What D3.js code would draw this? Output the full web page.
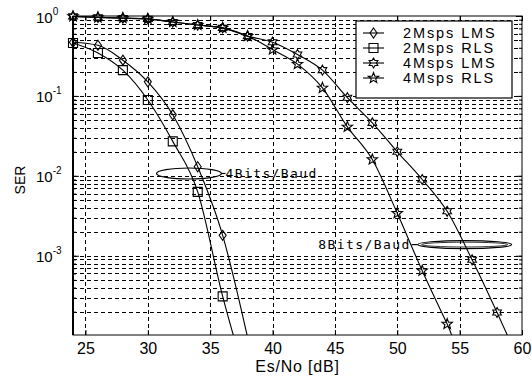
<!DOCTYPE html>
<html>
<head>
<meta charset="utf-8">
<script src="https://cdn.jsdelivr.net/npm/d3@7"></script>
<style>
  body { margin: 0; background: #fff; }
  text { font-family: "Liberation Sans", Arial, sans-serif; fill: #000; }
</style>
</head>
<body>
<script>
'use strict';

// SNR points (dB) and symbol error rates
const snr2 = [24, 26, 28, 30, 32, 34, 36, 38];
const ser2LMS = [0.47, 0.43, 0.28, 0.15, 0.058, 0.013, 1.8e-3, 9.5e-5];
const ser2RLS = [0.46, 0.345, 0.21, 0.089, 0.027, 6.3e-3, 3.1e-4, 2.5e-5];

const snr4 = [24, 26, 28, 30, 32, 34, 36, 38, 40, 42, 44, 46, 48, 50, 52, 54, 56, 58, 60];
const ser4LMS = [0.99, 0.96, 0.94, 0.92, 0.84, 0.77, 0.71, 0.56, 0.47, 0.33, 0.21, 0.095,
  0.046, 0.02, 9e-3, 3.6e-3, 8.9e-4, 1.95e-4, 4e-5];
const ser4RLS = [0.99, 0.96, 0.94, 0.92, 0.84, 0.77, 0.71, 0.56, 0.38, 0.25, 0.126, 0.041,
  0.016, 3.4e-3, 6.5e-4, 1.4e-4, 3e-5];

const seriesNames = ['2Msps LMS', '2Msps RLS', '4Msps LMS', '4Msps RLS'];
const seriesMarkers = ['diamond', 'square', 'hexagram', 'pentagram'];

const xTicks = [25, 30, 35, 40, 45, 50, 55, 60];
const yTickExps = [0, -1, -2, -3];

const series = [
  {x: snr2, y: ser2LMS},
  {x: snr2, y: ser2RLS},
  {x: snr4, y: ser4LMS},
  {x: snr4, y: ser4RLS}
].map((s, i) => ({
  name: seriesNames[i],
  marker: seriesMarkers[i],
  points: s.x.map((v, j) => ({x: v, y: s.y[j]}))
}));

const W = 532, H = 376;
const margin = {left: 73, right: 10, top: 16, bottom: 41};
const width = W - margin.left - margin.right;
const height = H - margin.top - margin.bottom;

const xScale = d3.scaleLinear().domain([24, 60]).range([0, width]);
const yMin = 1.02e-4;
const yScale = d3.scaleLog().domain([yMin, 1]).range([height, 0]);

const svg = d3.select('body').append('svg')
  .attr('width', W)
  .attr('height', H);

const g = svg.append('g')
  .attr('transform', 'translate(' + [margin.left, margin.top] + ')');

svg.append('defs').append('clipPath').attr('id', 'plot-clip')
  .append('rect').attr('width', width).attr('height', height);

// minor + major log positions
const yGridVals = [];
for (let e = -4; e < 0; e++) {
  for (let m = 1; m < 10; m++) {
    const v = m * Math.pow(10, e);
    if (v >= yMin) yGridVals.push(v);
  }
}

// grid
const grid = g.append('g')
  .attr('stroke', '#000')
  .attr('stroke-width', 1)
  .attr('stroke-dasharray', '4,3');

grid.selectAll('line.hg')
  .data(yGridVals)
  .enter()
  .append('line')
  .attr('x1', 0)
  .attr('x2', width)
  .attr('y1', d => Math.round(yScale(d)) + 0.5)
  .attr('y2', d => Math.round(yScale(d)) + 0.5);

grid.selectAll('line.vg')
  .data(xTicks.filter(d => d < 60))
  .enter()
  .append('line')
  .attr('x1', d => Math.round(xScale(d)) + 0.5)
  .attr('x2', d => Math.round(xScale(d)) + 0.5)
  .attr('y1', 0)
  .attr('y2', height);

// axes: ticks inside the box
const xAxisGenerator = d3.axisBottom(xScale)
  .tickValues(xTicks)
  .tickSizeInner(-5)
  .tickSizeOuter(0)
  .tickPadding(8)
  .tickFormat(d3.format('d'));

const xAxis = g.append('g')
  .attr('transform', 'translate(0,' + height + ')')
  .call(xAxisGenerator);
xAxis.select('.domain').remove();
xAxis.selectAll('text')
  .style('font-family', '"Liberation Sans", Arial, sans-serif')
  .style('font-size', '16px');

const topTicks = g.append('g').call(d3.axisTop(xScale).tickValues(xTicks).tickSizeInner(-5).tickSizeOuter(0).tickFormat(''));
topTicks.select('.domain').remove();

const yMinorTicks = (gen, size) => gen.tickValues(yGridVals).tickSizeInner(size).tickSizeOuter(0).tickFormat('');

const yLeft = g.append('g').call(yMinorTicks(d3.axisLeft(yScale), -3));
yLeft.select('.domain').remove();
const yRight = g.append('g').attr('transform', 'translate(' + width + ',0)')
  .call(yMinorTicks(d3.axisRight(yScale), -3));
yRight.select('.domain').remove();
const yLeftMajor = g.append('g').call(d3.axisLeft(yScale)
  .tickValues(yTickExps.map(e => Math.pow(10, e))).tickSizeInner(-6).tickSizeOuter(0).tickFormat(''));
yLeftMajor.select('.domain').remove();
const yRightMajor = g.append('g').attr('transform', 'translate(' + width + ',0)')
  .call(d3.axisRight(yScale).tickValues(yTickExps.map(e => Math.pow(10, e))).tickSizeInner(-6).tickSizeOuter(0).tickFormat(''));
yRightMajor.select('.domain').remove();

// y tick labels as 10^n
const yLabels = g.append('g');
yTickExps.forEach(e => {
  const y = yScale(Math.pow(10, e));
  const t = yLabels.append('text')
    .attr('x', -37)
    .attr('y', y + 6.5)
    .style('font-size', '15px');
  t.append('tspan').text('10');
  t.append('tspan')
    .attr('dy', -8)
    .style('font-size', '10px')
    .text(e === 0 ? '0' : '-' + Math.abs(e));
});

// box
g.append('rect')
  .attr('width', width)
  .attr('height', height)
  .attr('fill', 'none')
  .attr('stroke', '#000')
  .attr('stroke-width', 1);
g.append('line')
  .attr('x1', 0).attr('x2', 0)
  .attr('y1', 0).attr('y2', height)
  .attr('stroke', '#000')
  .attr('stroke-width', 2);

// marker shapes
function starPath(n, R, r) {
  const pts = [];
  for (let i = 0; i < 2 * n; i++) {
    const a = -Math.PI / 2 + i * Math.PI / n;
    const rad = i % 2 === 0 ? R : r;
    pts.push([rad * Math.cos(a), rad * Math.sin(a)]);
  }
  return 'M' + pts.map(p => p[0].toFixed(2) + ',' + p[1].toFixed(2)).join('L') + 'Z';
}

const markerPaths = {
  diamond: 'M0,-5L3.5,0L0,5L-3.5,0Z',
  square: 'M-4.5,-4.5H4.5V4.5H-4.5Z',
  hexagram: starPath(6, 5, 2.9),
  pentagram: starPath(5, 5.5, 2.3)
};

const lineGenerator = d3.line()
  .x(d => xScale(d.x))
  .y(d => yScale(d.y))
  .curve(d3.curveMonotoneX);

const plot = g.append('g').attr('clip-path', 'url(#plot-clip)');

series.forEach(s => {
  plot.append('path')
    .datum(s.points)
    .attr('d', lineGenerator)
    .attr('fill', 'none')
    .attr('stroke', '#000')
    .attr('stroke-width', 1.1);

  g.append('g').selectAll('path')
    .data(s.points.filter(d => d.y >= yMin))
    .enter()
    .append('path')
    .attr('d', markerPaths[s.marker])
    .attr('transform', d => 'translate(' + [xScale(d.x), yScale(d.y)] + ')')
    .attr('fill', 'none')
    .attr('stroke', '#000')
    .attr('stroke-width', 1.1);
});

// annotations
const annot = g.append('g')
  .attr('fill', 'none')
  .attr('stroke', '#000')
  .attr('stroke-width', 1.2);

const ell4 = {cx: xScale(33.3), cy: yScale(0.0107), rx: 32.5, ry: 5.5};
annot.append('ellipse')
  .attr('cx', ell4.cx).attr('cy', ell4.cy)
  .attr('rx', ell4.rx).attr('ry', ell4.ry);
annot.append('line')
  .attr('x1', ell4.cx + ell4.rx).attr('x2', ell4.cx + ell4.rx + 4)
  .attr('y1', ell4.cy).attr('y2', ell4.cy);

g.append('text')
  .attr('x', ell4.cx + ell4.rx + 4)
  .attr('y', ell4.cy + 4.5)
  .style('font-family', '"DejaVu Sans Mono", monospace')
  .style('font-size', '13px')
  .style('letter-spacing', '1.4px')
  .text('4Bits/Baud');

const ell8 = {cx: xScale(55.4), cy: yScale(1.38e-3), rx: 47, ry: 4};
annot.append('ellipse')
  .attr('cx', ell8.cx).attr('cy', ell8.cy)
  .attr('rx', ell8.rx).attr('ry', ell8.ry);
annot.append('ellipse')
  .attr('cx', ell8.cx).attr('cy', ell8.cy)
  .attr('rx', ell8.rx - 4).attr('ry', ell8.ry - 1.6)
  .attr('stroke-width', 0.8);
annot.append('line')
  .attr('x1', ell8.cx - ell8.rx).attr('x2', ell8.cx - ell8.rx - 6)
  .attr('y1', ell8.cy).attr('y2', ell8.cy);

g.append('text')
  .attr('x', ell8.cx - ell8.rx - 7)
  .attr('y', ell8.cy + 4.5)
  .attr('text-anchor', 'end')
  .style('font-family', '"DejaVu Sans Mono", monospace')
  .style('font-size', '13px')
  .style('letter-spacing', '1.4px')
  .text('8Bits/Baud');

// legend
const legend = svg.append('g').attr('transform', 'translate(356,21)');
legend.append('rect')
  .attr('width', 156)
  .attr('height', 77)
  .attr('fill', '#fff')
  .attr('stroke', '#000')
  .attr('stroke-width', 1.2);

const legendRows = legend.selectAll('g.row')
  .data(series)
  .enter()
  .append('g')
  .attr('transform', (d, i) => 'translate(0,' + (12 + i * 15) + ')');

legendRows.append('line')
  .attr('x1', 7).attr('x2', 28)
  .attr('stroke', '#000')
  .attr('stroke-width', 1.1);
legendRows.append('path')
  .attr('d', d => markerPaths[d.marker])
  .attr('transform', 'translate(17.5,0)')
  .attr('fill', 'none')
  .attr('stroke', '#000')
  .attr('stroke-width', 1.1);
legendRows.append('text')
  .attr('x', 47)
  .attr('y', 5)
  .style('font-size', '14.5px')
  .style('letter-spacing', '1.9px')
  .text(d => d.name);

// axis titles
svg.append('text')
  .attr('x', margin.left + xScale(42))
  .attr('y', 372)
  .attr('text-anchor', 'middle')
  .style('font-size', '16px')
  .style('letter-spacing', '0.8px')
  .text('Es/No [dB]');

svg.append('text')
  .attr('transform', 'translate(25,180) rotate(-90)')
  .attr('text-anchor', 'middle')
  .style('font-size', '14px')
  .text('SER');
</script>
</body>
</html>
